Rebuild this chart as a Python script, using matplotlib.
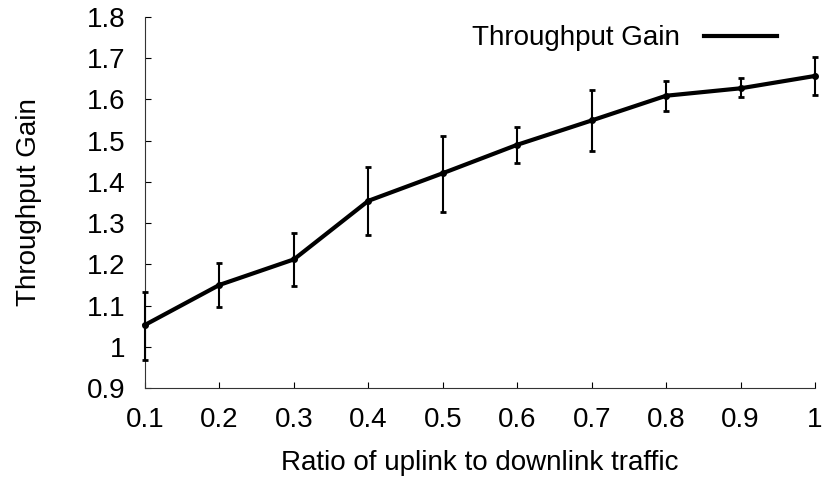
import matplotlib.pyplot as plt
from matplotlib.lines import Line2D

plt.rcParams['font.family'] = ['Liberation Sans', 'DejaVu Sans']

# Data
ratio = [0.1, 0.2, 0.3, 0.4, 0.5, 0.6, 0.7, 0.8, 0.9, 1.0]
gain = [1.053, 1.150, 1.212, 1.354, 1.421, 1.490, 1.549, 1.609, 1.627, 1.657]
gain_low = [0.968, 1.097, 1.148, 1.271, 1.328, 1.445, 1.476, 1.572, 1.605, 1.611]
gain_high = [1.134, 1.203, 1.277, 1.436, 1.512, 1.532, 1.622, 1.645, 1.651, 1.703]

x_ticks = [0.1, 0.2, 0.3, 0.4, 0.5, 0.6, 0.7, 0.8, 0.9, 1.0]
x_labels = ['0.1', '0.2', '0.3', '0.4', '0.5', '0.6', '0.7', '0.8', '0.9', '1']
y_ticks = [0.9, 1.0, 1.1, 1.2, 1.3, 1.4, 1.5, 1.6, 1.7, 1.8]
y_labels = ['0.9', '1', '1.1', '1.2', '1.3', '1.4', '1.5', '1.6', '1.7', '1.8']

err_low = [g - l for g, l in zip(gain, gain_low)]
err_high = [h - g for g, h in zip(gain, gain_high)]

fig = plt.figure(figsize=(8.26, 4.79), dpi=100)
ax = fig.add_axes([0.1755, 0.19, 0.8112, 0.7745])

line, caps, bars = ax.errorbar(ratio, gain, yerr=[err_low, err_high], color='black',
                               linewidth=3, elinewidth=1.5, capsize=2.5, capthick=2,
                               marker='o', markersize=4, zorder=3)
line.set_clip_on(False)
for c in caps:
    c.set_clip_on(False)
for b in bars:
    b.set_clip_on(False)

ax.set_xlim(0.1, 1.0)
ax.set_ylim(0.9, 1.8)
ax.set_xticks(x_ticks)
ax.set_xticklabels(x_labels)
ax.set_yticks(y_ticks)
ax.set_yticklabels(y_labels)

for side in ['top', 'right']:
    ax.spines[side].set_visible(False)
for side in ['left', 'bottom']:
    ax.spines[side].set_linewidth(0.8)
    ax.spines[side].set_color('#333333')

ax.tick_params(direction='in', length=4, width=0.8, labelsize=20)
ax.tick_params(axis='x', pad=14)
ax.tick_params(axis='y', pad=14)

ax.set_xlabel('Ratio of uplink to downlink traffic', fontsize=20, labelpad=12)
ax.set_ylabel('Throughput Gain', fontsize=20, labelpad=32)

# legend: text first, then line, no frame
handle = Line2D([], [], color='black', linewidth=3)
ax.legend([handle], ['Throughput Gain'], loc='upper right', frameon=False,
          markerfirst=False, fontsize=20, handlelength=2.6, handletextpad=0.9,
          bbox_to_anchor=(0.98, 1.045))

fig.savefig('out.png', dpi=100)
